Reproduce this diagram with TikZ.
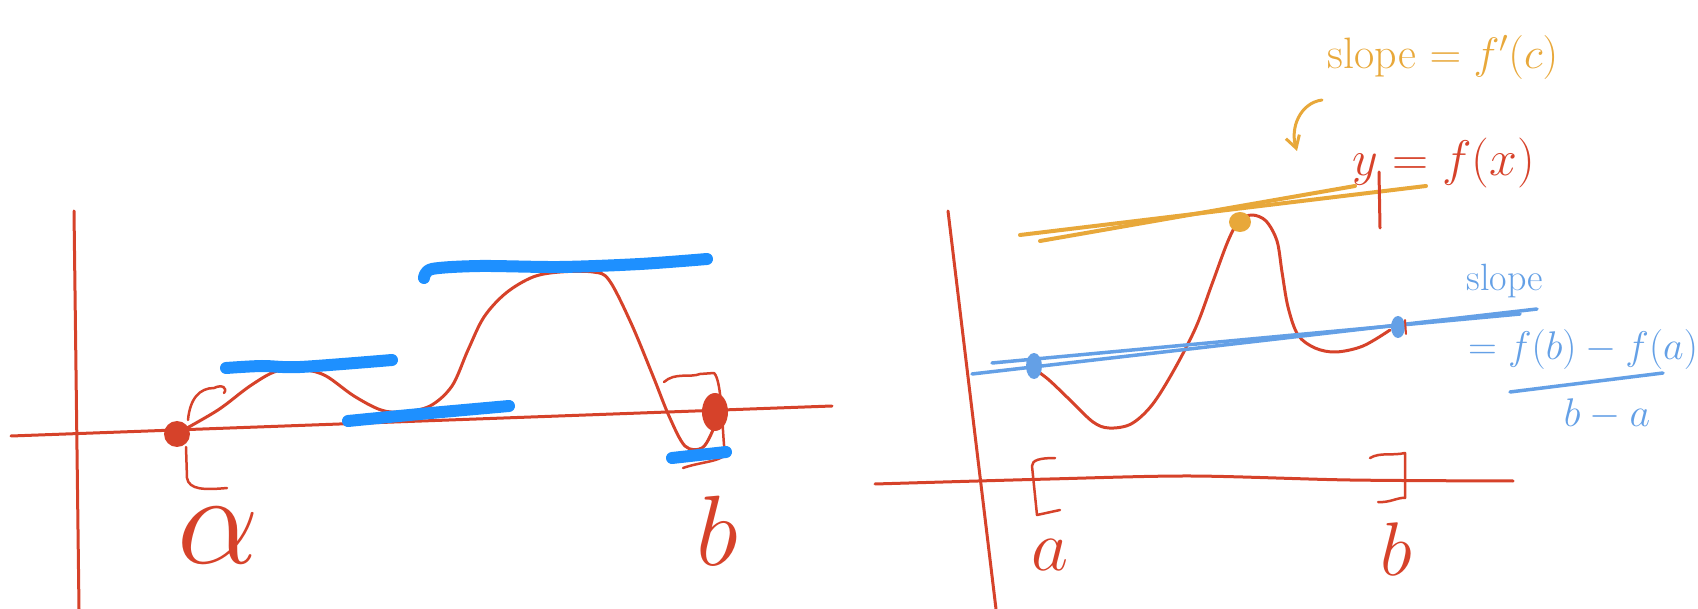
\RequirePackage{fix-cm}
\documentclass[tikz,border=0pt]{standalone}
\usetikzlibrary{arrows.meta}
\definecolor{pen}{RGB}{214,66,42}
\definecolor{hl}{RGB}{30,144,255}
\definecolor{sec}{RGB}{100,160,230}
\definecolor{tang}{RGB}{232,168,58}
\tikzset{
 redpen/.style={draw=pen,line width=3pt,line cap=round,line join=round},
 thinpen/.style={draw=pen,line width=2.5pt,line cap=round,line join=round},
 bluebar/.style={draw=hl,line width=12pt,line cap=round,line join=round},
 secline/.style={draw=sec,line width=3.5pt,line cap=round},
 tanline/.style={draw=tang,line width=4pt,line cap=round},
 lbl/.style={text=pen,inner sep=0pt},
}
\newcommand{\fs}[1]{\fontsize{#1}{#1}\selectfont}
\begin{document}
\begin{tikzpicture}[x=1pt,y=-1pt]
\useasboundingbox (0,0) rectangle (1698,609);
% ---------------- left panel ----------------
\draw[redpen] (74,211) -- (79,609);
\draw[redpen] (11,436) -- (832,406);
\draw[redpen] plot[smooth,tension=0.55] coordinates {(178,433)(218,410)(250,386)(277,371)(305,370)(326,376)(354,396)(381,410)(403,412)(430,406)(452,386)(468,350)(484,317)(506,293)(533,277)(560,272)(593,272)(609,280)(631,323)(653,376)(669,416)(685,446)(702,448)(713,430)(718,413)};
\fill[pen] (177,434) ellipse (13 and 13);
\fill[pen] (715,412) ellipse (13 and 19);
% brackets
\draw[thinpen] (224,393) .. controls (228,388) and (222,384) .. (214,388) .. controls (200,388) and (190,398) .. (188,420);
\draw[thinpen] (186,447) -- (187,478) .. controls (189,490) and (205,490) .. (227,488);
\draw[thinpen] (664,382) .. controls (675,372) and (690,378) .. (700,374) -- (714,373) .. controls (722,380) and (722,430) .. (725,455) .. controls (718,462) and (700,462) .. (683,468);
% blue horizontal tangents
\draw[bluebar] plot[smooth] coordinates {(424,278)(432,269)(480,266)(560,267)(640,264)(707,259)};
\draw[bluebar] plot[smooth] coordinates {(226,368)(262,366)(300,367)(392,360)};
\draw[bluebar] plot[smooth] coordinates {(348,421)(420,414)(509,406)};
\draw[bluebar] (672,458) -- (726,452);
\node[lbl,font=\fs{130}] (la) at (218,536) {$\alpha$};
\node[lbl,font=\fs{100}] (lb) at (717,531) {$b$};
% ---------------- right panel ----------------
\draw[redpen] (948,211) -- (996,609);
\draw[redpen] plot[smooth] coordinates {(875,484)(1050,479)(1191,476)(1350,480)(1513,481)};
\draw[thinpen] (1055,458) .. controls (1040,458) and (1032,460) .. (1032,466) -- (1037,515) -- (1060,510);
\draw[thinpen] (1370,458) .. controls (1380,452) and (1392,456) .. (1405,453) -- (1405,498) .. controls (1398,497) and (1390,503) .. (1378,502);
\node[lbl,font=\fs{72}] (ra) at (1050,555) {$a$};
\node[lbl,font=\fs{76}] (rb) at (1396,549) {$b$};
% curve
\draw[redpen] plot[smooth,tension=0.55] coordinates {(1033,368)(1049,380)(1071,401)(1093,422)(1109,428)(1131,424)(1152,405)(1174,370)(1196,327)(1212,284)(1228,241)(1239,221)(1252,215)(1266,221)(1277,241)(1282,272)(1288,307)(1298,335)(1315,348)(1336,352)(1363,346)(1390,330)};
% secant
\draw[secline] (972,374) -- (1537,309);
\draw[secline] (992,363) -- (1520,314);
\fill[sec] (1034,366) ellipse (8 and 13);
\fill[sec] (1398,327) ellipse (7 and 11);
\draw[thinpen,line width=2pt] (1405,320) -- (1406,334);
% tangent
\draw[tanline] (1020,235) -- (1426,186);
\draw[tanline] (1040,241) -- (1355,186);
\fill[tang] (1240,222) ellipse (11 and 10);
% y = f(x)
\draw[redpen] (1379,172) -- (1380,228);
\node[lbl,font=\fs{50}] (yf) at (1444,163) {$y=f(x)$};
% orange label and arrow
\node[text=tang,inner sep=0pt,font=\fs{44}] (sl1) at (1443,57) {slope $=f'(c)$};
\coordinate (arrs) at (1322,100);
\coordinate (arre) at (1297,151);
\draw[tanline,line width=3pt,-{Straight Barb[length=12pt,width=14pt]}] (arrs) .. controls (1300,103) and (1290,128) .. (arre);
% blue label
\node[text=sec,inner sep=0pt,font=\fs{38}] (sl2) at (1505,281) {slope};
\node[text=sec,inner sep=0pt,font=\fs{40}] (num) at (1583,350) {$=f(b)-f(a)$};
\coordinate (barl) at (1510,392);
\coordinate (barr) at (1663,373);
\draw[secline] (barl) -- (barr);
\node[text=sec,inner sep=0pt,font=\fs{40}] (den) at (1607,414) {$b-a$};
\end{tikzpicture}
\end{document}
